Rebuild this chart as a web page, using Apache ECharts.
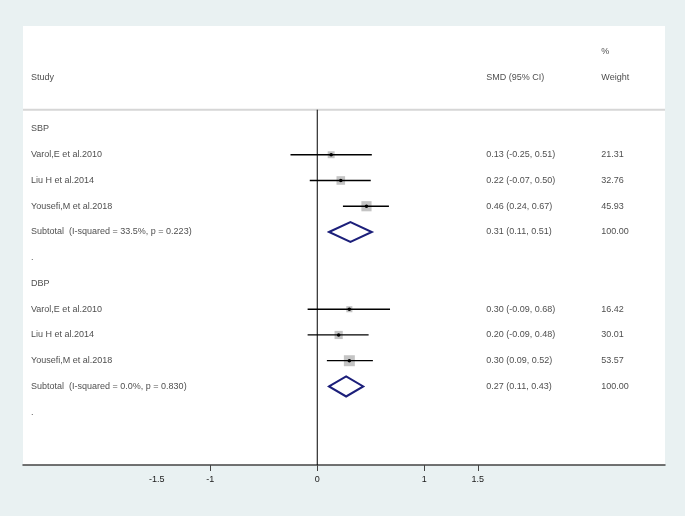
<!DOCTYPE html>
<html>
<head>
<meta charset="utf-8">
<script src="https://cdn.jsdelivr.net/npm/echarts@6/dist/echarts.min.js"></script>
<style>
html,body{margin:0;padding:0;background:#e9f1f2}
#main{width:685px;height:516px}
</style>
</head>
<body>
<div id="main"></div>
<script>
// study data
var studies = ['Varol,E et al.2010', 'Liu H et al.2014', 'Yousefi,M et al.2018'];

var sbpSmd = [0.13, 0.22, 0.46];
var sbpLo = [-0.25, -0.07, 0.24];
var sbpHi = [0.51, 0.50, 0.67];
var sbpWeight = [21.31, 32.76, 45.93];
var sbpPooled = [0.31, 0.11, 0.51];
var sbpHet = ['33.5%', '0.223'];

var dbpSmd = [0.30, 0.20, 0.30];
var dbpLo = [-0.09, -0.09, 0.09];
var dbpHi = [0.68, 0.48, 0.52];
var dbpWeight = [16.42, 30.01, 53.57];
var dbpPooled = [0.27, 0.11, 0.43];
var dbpHet = ['0.0%', '0.830'];

var tickValues = [-1, 0, 1, 1.5];
var tickLabels = [-1.5, -1, 0, 1, 1.5];

// layout: x of the text columns (axis units), row range
var X_MIN = -2.75, X_MAX = 3.25;
var Y_MIN = -4, Y_MAX = 13.05, HEAD_LINE = -0.75;
var COL_STUDY = -2.675, COL_SMD = 1.58, COL_WT = 2.655;
var TXT = '#1a1a1a';
var FONT = 'Liberation Sans, Arial, sans-serif';

function ci(e, l, h) {
  return e.toFixed(2) + ' (' + l.toFixed(2) + ', ' + h.toFixed(2) + ')';
}

var studyRows = [], pooledRows = [], textRows = [];
textRows.push([COL_STUDY, -2, 'Study'], [COL_SMD, -2, 'SMD (95% CI)'], [COL_WT, -3, '%'], [COL_WT, -2, 'Weight']);

function addGroup(name, start, smd, lo, hi, wt, pooled, het) {
  textRows.push([COL_STUDY, start, name]);
  for (var i = 0; i < studies.length; i++) {
    var r = start + 1 + i;
    studyRows.push([smd[i], lo[i], hi[i], r, wt[i]]);
    textRows.push([COL_STUDY, r, studies[i]]);
    textRows.push([COL_SMD, r, ci(smd[i], lo[i], hi[i])]);
    textRows.push([COL_WT, r, wt[i].toFixed(2)]);
  }
  var rs = start + 1 + studies.length;
  pooledRows.push([pooled[0], pooled[1], pooled[2], rs]);
  textRows.push([COL_STUDY, rs, 'Subtotal  (I-squared = ' + het[0] + ', p = ' + het[1] + ')']);
  textRows.push([COL_SMD, rs, ci(pooled[0], pooled[1], pooled[2])]);
  textRows.push([COL_WT, rs, '100.00']);
  textRows.push([COL_STUDY, rs + 1, '.']);
}
addGroup('SBP', 0, sbpSmd, sbpLo, sbpHi, sbpWeight, sbpPooled, sbpHet);
addGroup('DBP', 6, dbpSmd, dbpLo, dbpHi, dbpWeight, dbpPooled, dbpHet);

var chart = echarts.init(document.getElementById('main'));
var option = {
  animation: false,
  backgroundColor: '#e9f1f2',
  grid: {left: 23, right: 20, top: 26, bottom: 51, show: true, backgroundColor: '#fff', borderWidth: 0},
  xAxis: {
    type: 'value', min: X_MIN, max: X_MAX,
    splitLine: {show: false},
    axisLine: {show: true, onZero: false, lineStyle: {color: '#444', width: 1.5}},
    axisTick: {show: true, customValues: tickValues, length: 6, lineStyle: {color: '#444'}},
    axisLabel: {customValues: tickLabels, color: TXT, fontSize: 9, fontFamily: FONT, margin: 10}
  },
  yAxis: {type: 'value', min: Y_MIN, max: Y_MAX, inverse: true, show: false},
  series: [
    { // header separator
      type: 'line', symbol: 'none', silent: true,
      data: [[X_MIN, HEAD_LINE], [X_MAX, HEAD_LINE]],
      lineStyle: {color: '#d6d6d6', width: 2}
    },
    { // line of no effect
      type: 'line', symbol: 'none', silent: true,
      data: [[0, HEAD_LINE], [0, Y_MAX]],
      lineStyle: {color: '#000', width: 1}
    },
    {
      type: 'custom',
      data: studyRows,
      encode: {x: [0, 1, 2], y: 3},
      renderItem: function(params, api) {
        var r = api.value(3);
        var c = api.coord([api.value(0), r]);
        var l = api.coord([api.value(1), r]);
        var h = api.coord([api.value(2), r]);
        var s = 1.5 * Math.sqrt(api.value(4));
        return {type: 'group', children: [
          {type: 'rect', shape: {x: c[0] - s / 2, y: c[1] - s / 2, width: s, height: s}, style: {fill: '#c4c4c4'}},
          {type: 'line', shape: {x1: l[0], y1: c[1], x2: h[0], y2: c[1]}, style: {stroke: '#000', lineWidth: 1.3}},
          {type: 'circle', shape: {cx: c[0], cy: c[1], r: 1.8}, style: {fill: '#000'}}
        ]};
      }
    },
    {
      type: 'custom',
      data: pooledRows,
      encode: {x: [0, 1, 2], y: 3},
      renderItem: function(params, api) {
        var r = api.value(3);
        var c = api.coord([api.value(0), r]);
        var l = api.coord([api.value(1), r]);
        var h = api.coord([api.value(2), r]);
        var hh = 10;
        return {type: 'polygon',
          shape: {points: [[l[0], c[1]], [c[0], c[1] - hh], [h[0], c[1]], [c[0], c[1] + hh]]},
          style: {fill: 'none', stroke: '#1c1f7a', lineWidth: 2}};
      }
    },
    {
      type: 'scatter',
      data: textRows,
      symbolSize: 0,
      silent: true,
      label: {
        show: true, position: 'right', distance: 0,
        color: TXT, fontSize: 9, fontFamily: FONT,
        formatter: function(p) { return p.data[2]; }
      }
    }
  ]
};
chart.setOption(option);
</script>
</body>
</html>
